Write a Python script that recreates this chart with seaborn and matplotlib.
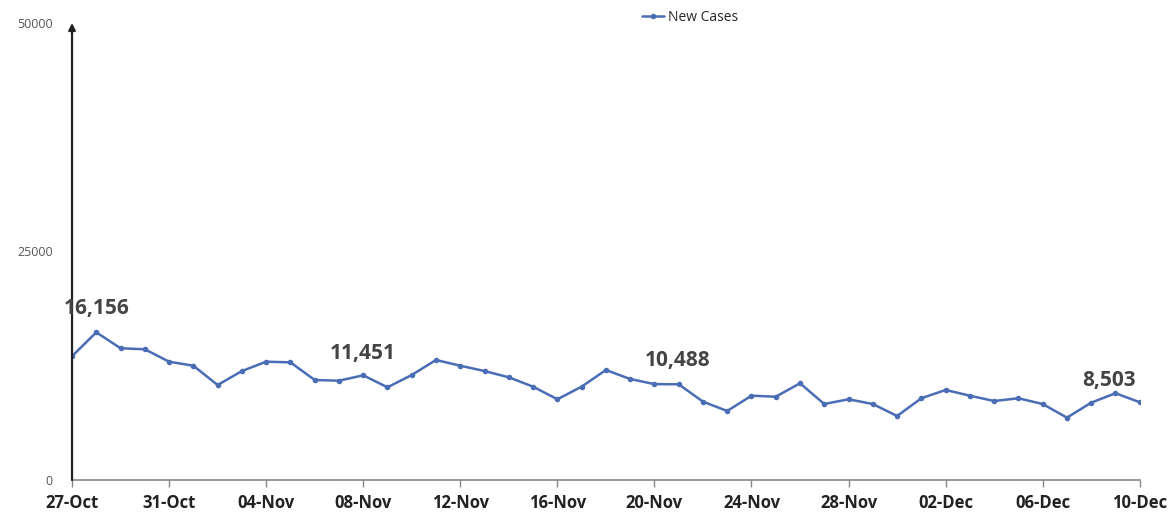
import pandas as pd
import seaborn as sns
import matplotlib.pyplot as plt

# daily new cases, 27-Oct .. 10-Dec
dates = pd.date_range("2020-10-27", "2020-12-10", freq="D")
new_cases = [13540, 16156, 14410, 14300, 12940, 12500, 10390, 11920, 12940, 12870,
             10940, 10860, 11451, 10140, 11490, 13130, 12500, 11920, 11230, 10210,
             8830, 10210, 12030, 11050, 10488, 10470, 8570, 7550, 9220, 9110,
             10580, 8310, 8830, 8310, 7000, 8940, 9850, 9220, 8640, 8940,
             8310, 6820, 8460, 9490, 8503]
labelled_days = ["2020-10-28", "2020-11-08", "2020-11-20", "2020-12-10"]
label_offsets = [(0, 17), (0, 16), (17, 17), (-22, 16)]
y_ticks = [0, 25000, 50000]

df = pd.DataFrame({"date": dates, "New Cases": new_cases})
df["day"] = range(len(df))

sns.set_style("white")
plt.rcParams['font.family'] = ['Open Sans', 'DejaVu Sans']

fig = plt.figure(figsize=(11.75, 5.17), dpi=100)
ax = fig.add_axes([0.0613, 0.0716, 0.9087, 0.884])

sns.lineplot(data=df, x="day", y="New Cases", ax=ax, color="#4a6db5",
             marker="o", markersize=4, markeredgewidth=0, linewidth=1.8,
             label="New Cases")

ax.set_xlim(0, len(df) - 1)
ax.set_ylim(0, 50000)
ax.set_xticks(df["day"][::4])
ax.set_xticklabels(df["date"][::4].dt.strftime("%d-%b"), fontsize=12,
                   fontweight="bold", color="#222222")
ax.set_yticks(y_ticks)
ax.set_yticklabels([str(v) for v in y_ticks], fontsize=9, color="#555555")
ax.tick_params(axis="y", length=0, pad=14)
ax.tick_params(axis="x", length=5, width=1, color="#888888", direction="out",
               bottom=True, pad=5)
ax.set_xlabel("")
ax.set_ylabel("")

for s in ["top", "right", "left"]:
    ax.spines[s].set_visible(False)
ax.spines["bottom"].set_color("#888888")
ax.spines["bottom"].set_linewidth(1.2)

# left axis drawn as an arrow
ax.annotate("", xy=(0, 1.0), xytext=(0, 0), xycoords="axes fraction",
            arrowprops=dict(arrowstyle="-|>", color="#222222", lw=1.6,
                            mutation_scale=10, shrinkA=0, shrinkB=0))

for d, off in zip(labelled_days, label_offsets):
    row = df[df["date"] == pd.Timestamp(d)].iloc[0]
    ax.annotate(f"{row['New Cases']:,}", xy=(row["day"], row["New Cases"]),
                xytext=off, textcoords="offset points", ha="center",
                va="center", fontsize=15, fontweight="bold", color="#444444")

ax.legend(loc="center", bbox_to_anchor=(0.579, 1.013), frameon=False,
          fontsize=10, handlelength=1.6, handletextpad=0.3)

plt.savefig("out.png", dpi=100)
